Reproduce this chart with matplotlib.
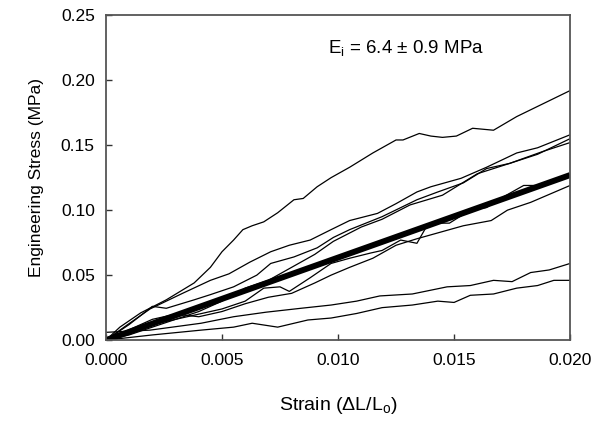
import numpy as np
import matplotlib
matplotlib.use('Agg')
from matplotlib import pyplot as plt
from matplotlib.ticker import FormatStrFormatter

plt.rcParams['font.family'] = ['Liberation Sans', 'DejaVu Sans']
plt.rcParams['mathtext.fontset'] = 'custom'
plt.rcParams['mathtext.rm'] = 'Liberation Sans'
plt.rcParams['mathtext.it'] = 'Liberation Sans'

# traced specimen curves (strain, stress in MPa)
x1 = [0, 0.0006, 0.0015, 0.0026, 0.0038, 0.0045, 0.0050, 0.0055, 0.0059, 0.0063, 0.0068, 0.0074,
      0.0081, 0.0085, 0.0091, 0.0097, 0.0105, 0.0115, 0.0125, 0.0128, 0.0135, 0.0140, 0.0145,
      0.0151, 0.0158, 0.0167, 0.0177, 0.0200]
y1 = [0, 0.010, 0.021, 0.031, 0.044, 0.056, 0.068, 0.077, 0.085, 0.088, 0.091, 0.098,
      0.108, 0.109, 0.118, 0.125, 0.133, 0.144, 0.154, 0.154, 0.159, 0.157, 0.156,
      0.157, 0.163, 0.1615, 0.172, 0.192]

x2 = [0, 0.0009, 0.0019, 0.0033, 0.0045, 0.0053, 0.0062, 0.0071, 0.0079, 0.0088, 0.0097, 0.0105,
      0.0117, 0.0125, 0.0134, 0.0140, 0.0153, 0.0164, 0.0177, 0.0186, 0.0200]
y2 = [0, 0.0115, 0.024, 0.036, 0.046, 0.051, 0.060, 0.068, 0.073, 0.077, 0.085, 0.092,
      0.0975, 0.105, 0.114, 0.118, 0.1245, 0.133, 0.144, 0.148, 0.158]

x3 = [0, 0.0010, 0.0020, 0.0026, 0.0038, 0.0045, 0.0055, 0.0065, 0.0071, 0.0081, 0.0091, 0.0098,
      0.0105, 0.0119, 0.0134, 0.0143, 0.0154, 0.0164, 0.0174, 0.0186, 0.0200]
y3 = [0, 0.012, 0.026, 0.0245, 0.031, 0.035, 0.041, 0.050, 0.059, 0.064, 0.071, 0.079,
      0.085, 0.095, 0.108, 0.114, 0.121, 0.132, 0.136, 0.143, 0.155]

x4 = [0, 0.0010, 0.0020, 0.0030, 0.0040, 0.0050, 0.0060, 0.0070, 0.0080, 0.0090, 0.0098, 0.0110,
      0.0119, 0.0131, 0.0145, 0.0160, 0.0174, 0.0188, 0.0200]
y4 = [0, 0.006, 0.012, 0.016, 0.022, 0.030, 0.040, 0.046, 0.056, 0.066, 0.076, 0.087,
      0.093, 0.104, 0.1115, 0.128, 0.136, 0.145, 0.152]

x5 = [0, 0.0010, 0.0020, 0.0030, 0.0040, 0.0050, 0.0060, 0.0068, 0.0075, 0.0079, 0.0088, 0.0097,
      0.0105, 0.0114, 0.0119, 0.0127, 0.0134, 0.0138, 0.0141, 0.0148, 0.0157, 0.0164, 0.0171,
      0.0180, 0.0188, 0.0200]
y5 = [0, 0.004, 0.010, 0.016, 0.020, 0.024, 0.030, 0.040, 0.041, 0.0375, 0.048, 0.059,
      0.063, 0.067, 0.069, 0.077, 0.0745, 0.087, 0.090, 0.090, 0.100, 0.102, 0.110,
      0.119, 0.119, 0.127]

x6 = [0, 0.0010, 0.0020, 0.0030, 0.0040, 0.0050, 0.0060, 0.0070, 0.0080, 0.0090, 0.0097, 0.0105,
      0.0115, 0.0125, 0.0134, 0.0144, 0.0154, 0.0166, 0.0173, 0.0183, 0.0200]
y6 = [0, 0.008, 0.016, 0.020, 0.018, 0.022, 0.028, 0.033, 0.036, 0.044, 0.050, 0.056,
      0.063, 0.073, 0.078, 0.083, 0.088, 0.092, 0.100, 0.106, 0.119]

x7 = [0, 0.0019, 0.0041, 0.0055, 0.0069, 0.0084, 0.0097, 0.0108, 0.0118, 0.0132, 0.0147, 0.0157,
      0.0167, 0.0175, 0.0183, 0.0191, 0.0200]
y7 = [0.006, 0.0077, 0.013, 0.018, 0.0215, 0.0245, 0.027, 0.030, 0.034, 0.0355, 0.041, 0.042,
      0.046, 0.045, 0.052, 0.054, 0.059]

x8 = [0, 0.0020, 0.0041, 0.0055, 0.0063, 0.0074, 0.0087, 0.0097, 0.0108, 0.0119, 0.0132, 0.0143,
      0.0150, 0.0157, 0.0167, 0.0177, 0.0186, 0.0193, 0.0200]
y8 = [0, 0.004, 0.0077, 0.010, 0.013, 0.010, 0.0155, 0.017, 0.0205, 0.025, 0.027, 0.030,
      0.029, 0.0345, 0.0355, 0.040, 0.042, 0.046, 0.046]

curves = [(x1, y1), (x2, y2), (x3, y3), (x4, y4), (x5, y5), (x6, y6), (x7, y7), (x8, y8)]

# mean initial modulus fit
fit_x = [0, 0.020]
fit_y = [0, 0.127]

fig = plt.figure(figsize=(6.02, 4.22), dpi=100)
ax = fig.add_axes([0.176, 0.194, 0.771, 0.770])

for cx, cy in curves:
    ax.plot(cx, cy, color='black', linewidth=0.9)
ax.plot(fit_x, fit_y, color='black', linewidth=4.3, solid_capstyle='butt')

ax.set_xlim(0, 0.020)
ax.set_ylim(0, 0.25)
ax.set_xticks([0, 0.005, 0.010, 0.015, 0.020])
ax.set_yticks([0, 0.05, 0.10, 0.15, 0.20, 0.25])
ax.xaxis.set_major_formatter(FormatStrFormatter('%.3f'))
ax.yaxis.set_major_formatter(FormatStrFormatter('%.2f'))
ax.tick_params(direction='in', length=4, width=1, labelsize=12.5, colors='#333333',
               labelcolor='black')
ax.tick_params(axis='x', pad=9)
ax.tick_params(axis='y', pad=8)
for s in ax.spines.values():
    s.set_color('#555555')
    s.set_linewidth(1.3)

ax.set_xlabel(r'Strain ($\Delta$L/L$_\mathrm{o}$)', fontsize=14, labelpad=20)
ax.set_ylabel('Engineering Stress (MPa)', fontsize=12.5, labelpad=12)
ax.text(0.00957, 0.2246, r'E$_\mathrm{i}$ = 6.4 $\pm$ 0.9 MPa', fontsize=13.5, va='center')

fig.savefig('out.png', dpi=100)
